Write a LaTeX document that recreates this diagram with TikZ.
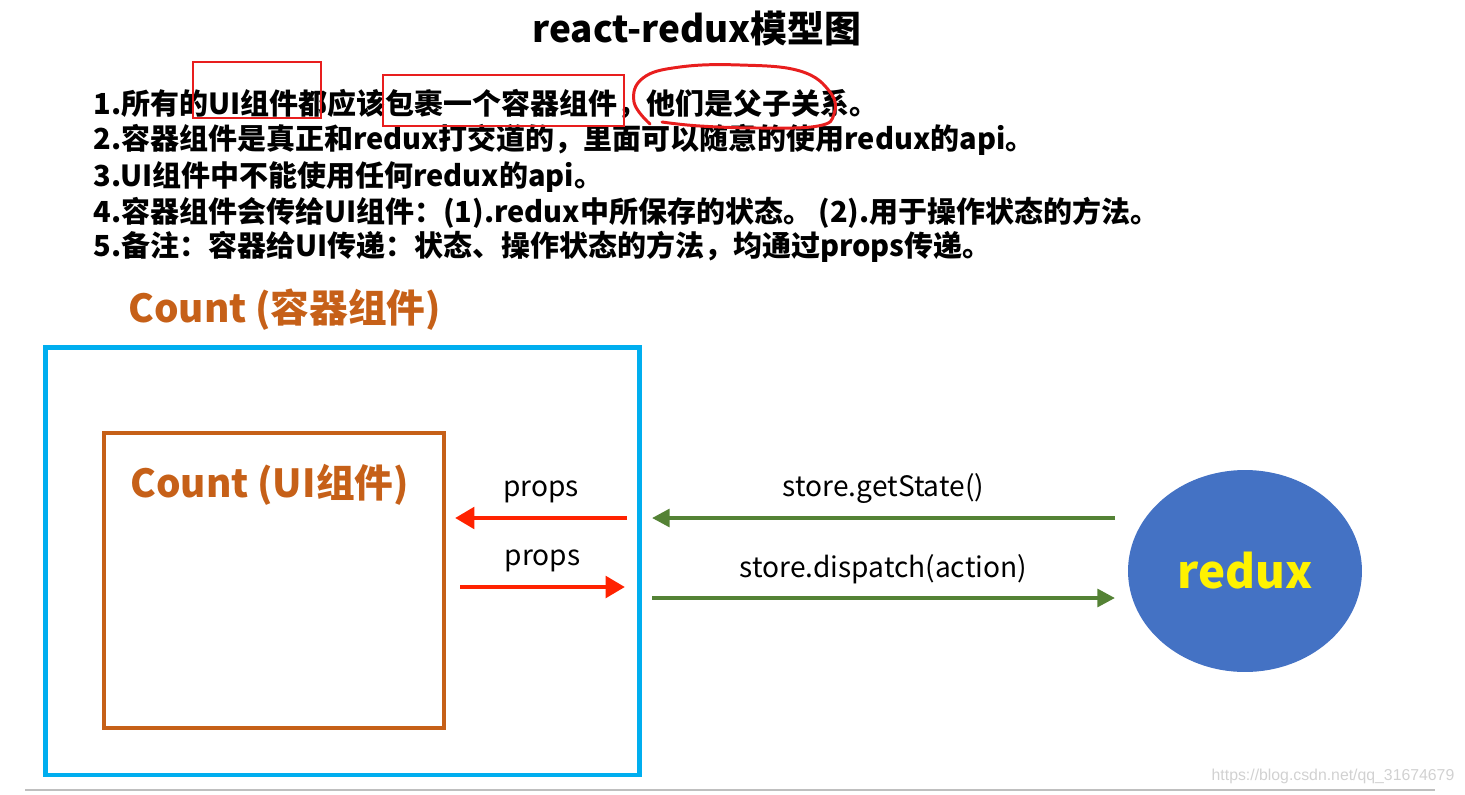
\documentclass[tikz,border=0pt]{standalone}
\usepackage{fontspec}
\setmainfont{Noto Sans CJK SC}
\newfontfamily\wmfont{Liberation Sans}
\usetikzlibrary{arrows.meta,shapes.geometric}
\definecolor{boxblue}{RGB}{0,174,239}
\definecolor{boxorange}{RGB}{198,96,24}
\definecolor{arrred}{RGB}{255,34,0}
\definecolor{arrgreen}{RGB}{84,130,53}
\definecolor{reduxblue}{RGB}{68,114,196}
\definecolor{markred}{RGB}{232,30,30}
\tikzset{
  note/.style={anchor=west,inner sep=0pt,font=\bfseries\fontsize{16.5}{16.5}\selectfont},
  boxlabel/.style={anchor=west,inner sep=0pt,text=boxorange,font=\bfseries\fontsize{22}{22}\selectfont},
  arrlabel/.style={midway,above=7pt,inner sep=0pt,font=\fontsize{16}{16}\selectfont},
  redarrow/.style={-{Triangle[length=11pt,width=12pt]},arrred,line width=2.8pt},
  greenarrow/.style={-{Triangle[length=10pt,width=10pt]},arrgreen,line width=2.3pt},
  markbox/.style={markred,line width=1.7pt}
}
\begin{document}
\begin{tikzpicture}[x=0.02cm,y=-0.02cm]
    \useasboundingbox (0,0) rectangle (1465,795);
    %title and notes
    \node[inner sep=0pt,font=\bfseries\fontsize{21}{21}\selectfont] (title) at (697,28) {react-redux模型图};
    \node[note] (l1) at (93,104) {1.所有的UI组件都应该包裹一个容器组件，他们是父子关系。};
    \node[note] (l2) at (93,140) {2.容器组件是真正和redux打交道的，里面可以随意的使用redux的api。};
    \node[note] (l3) at (93,177) {3.UI组件中不能使用任何redux的api。};
    \node[note] (l4) at (93,213) {4.容器组件会传给UI组件：(1).redux中所保存的状态。\ (2).用于操作状态的方法。};
    \node[note] (l5) at (93,247) {5.备注：容器给UI传递：状态、操作状态的方法，均通过props传递。};
    %red marks
    \draw[markbox] (193,62) rectangle (321,118);
    \draw[markbox] (383,75) rectangle (624,126);
    \draw[markbox,line cap=round] plot[smooth,tension=0.7] coordinates {(650,124) (634,102) (643,78) (680,67) (740,65) (800,71) (830,92) (834,114) (818,126) (760,128) (700,126) (662,122)};
    %boxes
    \node[boxlabel] (contlabel) at (128,310) {Count (容器组件)};
    \node[draw=boxblue,line width=2.8pt,minimum width=11.9cm,minimum height=8.56cm] (cont) at (342.5,561) {};
    \node[draw=boxorange,line width=2.3pt,minimum width=6.8cm,minimum height=5.9cm] (ui) at (274,580.5) {};
    \node[boxlabel] (uilabel) at (130,485) {Count (UI组件)};
    \node[ellipse,fill=reduxblue,minimum width=4.68cm,minimum height=4.04cm,inner sep=0pt,text=yellow,font=\bfseries\fontsize{26}{26}\selectfont] (redux) at (1245,571) {redux};
    %arrow ends
    \coordinate (p1s) at (627,518);
    \coordinate (p1e) at (455,518);
    \coordinate (p2s) at (460,587);
    \coordinate (p2e) at (625,587);
    \coordinate (g1s) at (1115,518);
    \coordinate (g1e) at (652,518);
    \coordinate (g2s) at (652,598);
    \coordinate (g2e) at (1115,598);
    %draw arrows
    \draw[redarrow] (p1s) -- (p1e) node[arrlabel,text=black] (props1) {props};
    \draw[redarrow] (p2s) -- (p2e) node[arrlabel,text=black] (props2) {props};
    \draw[greenarrow] (g1s) -- (g1e) node[arrlabel,text=black] (get) {store.getState()};
    \draw[greenarrow] (g2s) -- (g2e) node[arrlabel,text=black] (disp) {store.dispatch(action)};
    %footer
    \node[inner sep=0pt,text=black!18,font=\wmfont\fontsize{9}{9}\selectfont] (wm) at (1333,776) {https://blog.csdn.net/qq\_31674679};
    \draw[black!25,line width=1.2pt] (25,790) -- (1435,790);
\end{tikzpicture}
\end{document}
